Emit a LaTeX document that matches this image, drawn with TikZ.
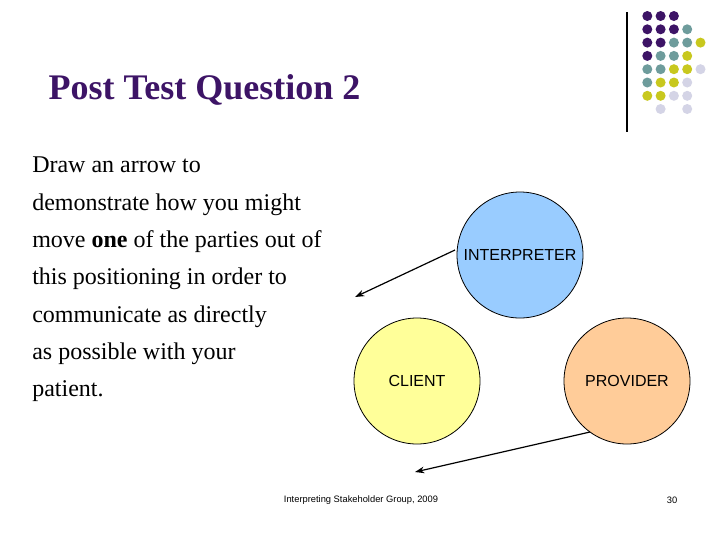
\documentclass[tikz,border=0pt]{standalone}
\usepackage{fontspec}
\setmainfont{Liberation Serif}
\newfontfamily\arialf{Liberation Sans}
\usetikzlibrary{arrows.meta}
\definecolor{dP}{HTML}{3D1466}
\definecolor{dT}{HTML}{6E9C9C}
\definecolor{dY}{HTML}{C8C81E}
\definecolor{dL}{HTML}{D4D4E6}
\definecolor{titlec}{HTML}{3D1466}
\tikzset{
  bub/.style={circle,draw=black,line width=0.6pt,minimum size=94.5pt,inner sep=0pt,font=\arialf\fontsize{12}{14}\selectfont},
  arr/.style={-{Stealth[length=7pt,width=5pt]},line width=0.9pt},
  dot/.style={circle,inner sep=0pt,minimum size=7.5pt}
}
\begin{document}
\begin{tikzpicture}[x=0.75pt,y=-0.75pt]
\useasboundingbox[fill=white] (0,0) rectangle (720,540);
\node[anchor=base west,text=titlec,font=\bfseries\fontsize{27}{30}\selectfont] (title) at (44,99) {Post Test Question 2};
\node[anchor=north west,align=left,inner sep=0pt,font=\fontsize{18}{28}\selectfont] (body) at (32,157) {Draw an arrow to\\demonstrate how you might\\move \textbf{one} of the parties out of\\this positioning in order to\\communicate as directly\\as possible with your\\patient.};
\draw[line width=0.8pt] (627,12) -- (627,132);
\foreach \r/\row in {1/{P,P,P},2/{P,P,P,T},3/{P,P,T,T,Y},4/{P,T,T,Y},5/{T,T,Y,Y,L},6/{T,Y,Y,L},7/{Y,Y,L,L}}{
  \foreach \c [count=\i] in \row {
    \node[dot,fill=d\c] at (634+13.3*\i,16+13.3*\r-13.3) {};
  }
}
\node[dot,fill=dL] at (660.6,109) {};
\node[dot,fill=dL] at (687.2,109) {};
\node[bub,fill={rgb,255:red,153;green,204;blue,255}] (interp) at (520,255) {INTERPRETER};
\node[bub,fill={rgb,255:red,255;green,255;blue,153}] (client) at (417,381) {CLIENT};
\node[bub,fill={rgb,255:red,255;green,204;blue,153}] (prov) at (627,381) {PROVIDER};
\coordinate (a1s) at (455,250); \coordinate (a1e) at (355,297);
\coordinate (a2s) at (590,432); \coordinate (a2e) at (415,472);
\draw[arr] (a1s) -- (a1e);
\draw[arr] (a2s) -- (a2e);
\node[font=\arialf\fontsize{7}{8}\selectfont] (foot) at (361,500) {Interpreting Stakeholder Group, 2009};
\node[font=\arialf\fontsize{7}{8}\selectfont] (num) at (672,500) {30};
\end{tikzpicture}
\end{document}
